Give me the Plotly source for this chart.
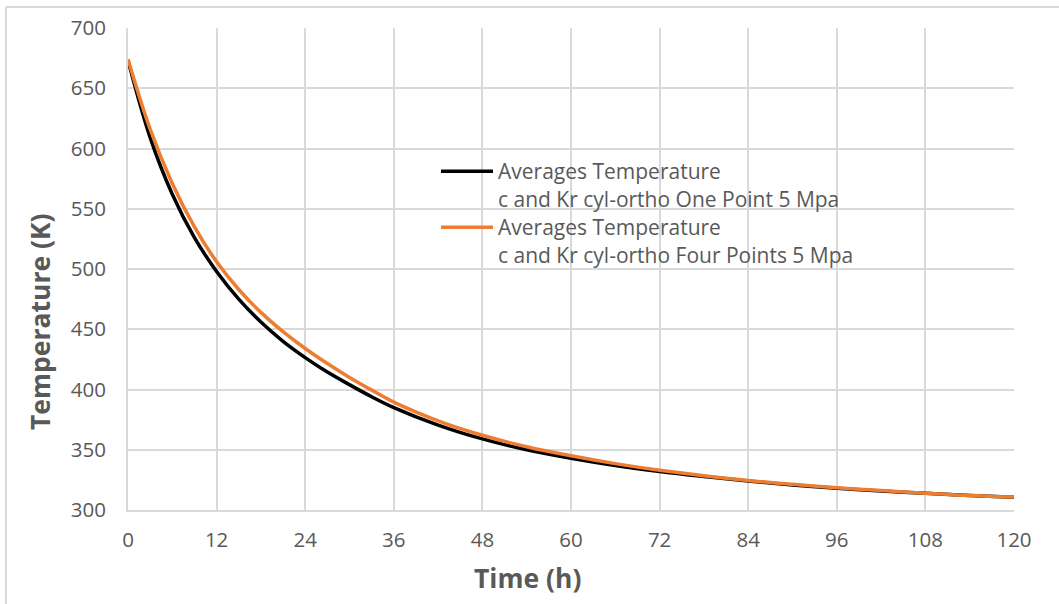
import plotly.graph_objects as go

# Time axis (hours) and average temperatures (K) for both models
time_h = [0, 3, 6, 9, 12, 15, 18, 21, 24, 27, 30, 33, 36, 42, 48, 54, 60, 66, 72,
          78, 84, 90, 96, 102, 108, 114, 120]
temp_one_point = [673, 609, 562, 526, 498, 475, 456, 440, 426.5, 414.5, 404, 394, 385, 370.5, 359,
                  350, 343, 337, 332, 327.8, 324, 320.8, 318, 315.8, 313.8, 312, 310.5]
temp_four_points = [674, 616, 571, 535, 506, 483, 464, 448, 434, 421.5, 410, 399.5, 389.5, 374, 362,
                    352.5, 345, 338.5, 333, 328.5, 324.5, 321.3, 318.5, 316.2, 314, 312, 310.7]

name_one = "Averages Temperature<br>c and Kr cyl-ortho One Point 5 Mpa"
name_four = "Averages Temperature<br>c and Kr cyl-ortho Four Points 5 Mpa"

x_ticks = list(range(0, 121, 12))
y_ticks = list(range(300, 701, 50))

GRAY_TEXT = "#595959"
GRID = "#d9d9d9"
FONT = "Open Sans, Noto Sans, sans-serif"

fig = go.Figure()
fig.add_trace(go.Scatter(x=time_h, y=temp_one_point, mode="lines", name=name_one,
                         legend="legend",
                         line=dict(color="#000000", width=3.5, shape="spline", smoothing=1)))
fig.add_trace(go.Scatter(x=time_h, y=temp_four_points, mode="lines", name=name_four,
                         legend="legend2",
                         line=dict(color="#ed7d31", width=3.5, shape="spline", smoothing=1)))

L, R, T, B = 128, 45, 28, 94
W, H = 1059, 604
pw, ph = W - L - R, H - T - B

def px_x(px):
    return (px - L) / pw

def px_y(py):
    return (H - B - py) / ph

legend_style = dict(xanchor="left", yanchor="top", bgcolor="rgba(0,0,0,0)",
                    font=dict(size=21, color=GRAY_TEXT, family=FONT),
                    itemwidth=52, valign="top")

fig.update_layout(
    width=W, height=H,
    margin=dict(l=L, r=R, t=T, b=B),
    paper_bgcolor="white", plot_bgcolor="white",
    font=dict(family=FONT, size=20.5, color=GRAY_TEXT),
    showlegend=True,
    legend=dict(x=px_x(436), y=px_y(151), **legend_style),
    legend2=dict(x=px_x(436), y=px_y(207), **legend_style),
    xaxis=dict(range=[0, 120], tickvals=x_ticks, ticktext=[str(v) for v in x_ticks],
               showgrid=True, gridcolor=GRID, gridwidth=1.5, zeroline=False,
               showline=True, linecolor=GRID, linewidth=2,
               ticks="outside", ticklen=10, tickcolor="rgba(0,0,0,0)"),
    yaxis=dict(range=[300, 700], tickvals=y_ticks, ticktext=[str(v) for v in y_ticks],
               showgrid=True, gridcolor=GRID, gridwidth=1.5, zeroline=False,
               showline=True, linecolor=GRID, linewidth=2,
               ticks="outside", ticklen=16, tickcolor="rgba(0,0,0,0)"),
    annotations=[
        dict(text="<b>Time (h)</b>", xref="paper", yref="paper", x=px_x(527), y=px_y(578),
             xanchor="center", yanchor="middle", showarrow=False,
             font=dict(size=26.5, color=GRAY_TEXT, family=FONT)),
        dict(text="<b>Temperature (K)</b>", xref="paper", yref="paper", x=px_x(40), y=px_y(322),
             xanchor="center", yanchor="middle", showarrow=False, textangle=-90,
             font=dict(size=26.5, color=GRAY_TEXT, family=FONT)),
    ],
    shapes=[
        dict(type="line", xref="paper", yref="paper", x0=px_x(6), x1=px_x(W + 2),
             y0=px_y(7), y1=px_y(7), line=dict(color=GRID, width=2)),
        dict(type="line", xref="paper", yref="paper", x0=px_x(6), x1=px_x(6),
             y0=px_y(7), y1=px_y(H + 2), line=dict(color=GRID, width=2)),
    ],
)

fig.write_html("out.html")
